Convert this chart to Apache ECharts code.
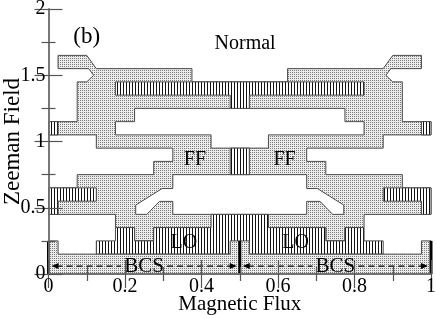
<!DOCTYPE html>
<html><head><meta charset="utf-8">
<script src="https://cdn.jsdelivr.net/npm/echarts@6/dist/echarts.min.js"></script>
<style>html,body{margin:0;padding:0;background:#fff}#c{width:436px;height:318px}</style>
</head><body><div id="c"></div>
<script>
// ---- Phase boundaries (flux, field). "Half" paths run over flux 0..0.5, start and end on flux = 0.5,
// and are mirrored about flux = 0.5 to close the region.
const ffEnvelopeHalf = [[0.5,1.45],[0.375,1.45],[0.375,1.55],[0.125,1.55],[0.1,1.65],[0.025,1.65],[0.025,1.55],
  [0.105,1.55],[0.118,1.5],[0.1,1.45],[0.075,1.45],[0.075,1.15],[0,1.15],[0,1.05],[0.125,1.05],[0.125,0.95],
  [0.325,0.95],[0.325,0.85],[0.275,0.85],[0.275,0.75],[0.075,0.75],[0.075,0.65],[0,0.65],[0,0.45],[0.175,0.45],
  [0.175,0.35],[0.225,0.35],[0.225,0.25],[0.275,0.25],[0.275,0.35],[0.5,0.35]];
const normalUpperHalf = [[0.5,1.25],[0.225,1.25],[0.225,1.15],[0.175,1.15],[0.175,1.05],[0.425,1.05],[0.425,0.95],[0.5,0.95]];
const normalMiddleHalf = [[0.5,0.75],[0.325,0.75],[0.325,0.645],[0.297,0.645],[0.228,0.52],[0.228,0.45],
  [0.257,0.45],[0.29,0.548],[0.325,0.548],[0.325,0.45],[0.5,0.45]];
const loTopHalf = [[0.5,1.45],[0.175,1.45],[0.175,1.35],[0.475,1.35],[0.475,1.25],[0.5,1.25]];
const loCenterHalf = [[0.5,0.95],[0.475,0.95],[0.475,0.75],[0.5,0.75]];
const loBottomHalf = [[0.5,0.45],[0.425,0.45],[0.425,0.35],[0.275,0.35],[0.275,0.25],[0.225,0.25],[0.225,0.35],
  [0.175,0.35],[0.175,0.25],[0.125,0.25],[0.125,0.15],[0.5,0.15]];
const loEdgeUpper = [[0,1.05],[0.025,1.05],[0.025,1.15],[0,1.15]];
const loEdgeMiddle = [[0,0.65],[0.125,0.65],[0.125,0.55],[0.025,0.55],[0.025,0.45],[0,0.45]];
const bcsHalf = [[0.5,0.25],[0.475,0.25],[0.475,0.15],[0.025,0.15],[0.025,0.25],[0,0.25],[0,0],[0.5,0]];
const firstOrderFlux = [0, 0.5, 1];
const firstOrderTop = 0.25;
const bcsArrowField = 0.06;
const xTicks = [0, 0.2, 0.4, 0.6, 0.8, 1];
const yTicks = [0, 0.5, 1, 1.5, 2];

// ---- build full polygons
const mirror = p => [1 - p[0], p[1]];
function closeHalf(h){ const r = h.slice().reverse().map(mirror); return h.concat(r.slice(1, -1)); }
function pair(p){ return [p, p.map(mirror)]; }

const ffPolys = [closeHalf(ffEnvelopeHalf)];
const normalPolys = [closeHalf(normalUpperHalf), closeHalf(normalMiddleHalf)];
const loPolys = [closeHalf(loTopHalf), closeHalf(loCenterHalf), closeHalf(loBottomHalf)]
  .concat(pair(loEdgeUpper), pair(loEdgeMiddle));
const bcsPolys = [closeHalf(bcsHalf)];

// ---- fill patterns
function pattern(w, h, draw){ const c = document.createElement('canvas'); c.width = w; c.height = h;
  const g = c.getContext('2d'); draw(g); return {image: c, repeat: 'repeat'}; }
const dots = pattern(2, 2, g => { g.fillStyle = '#ececec'; g.fillRect(0,0,2,2); g.fillStyle = '#7a7a7a'; g.fillRect(0,0,1,1); });
const hatch = pattern(3, 3, g => { g.fillStyle = '#fff'; g.fillRect(0,0,3,3); g.fillStyle = '#111'; g.fillRect(0,0,1,3); });

const SERIF = '"Liberation Serif", "Times New Roman", serif';
const EDGE = '#4a4a4a';

function polySeries(polys, fill, z){
  return { type: 'custom', coordinateSystem: 'cartesian2d', z: z, silent: true, clip: false,
    data: polys.map((p, i) => [p[0][0], p[0][1], i]),
    renderItem: (params, api) => ({ type: 'polygon',
      shape: { points: polys[params.dataIndex].map(pt => api.coord(pt)) },
      style: { fill: fill, stroke: EDGE, lineWidth: 1 } }) };
}

const labels = [
  {text: '(b)', x: 0.1, y: 1.79, size: 23},
  {text: 'Normal', x: 0.514, y: 1.735, size: 20},
  {text: 'FF', x: 0.383, y: 0.86, size: 20},
  {text: 'FF', x: 0.617, y: 0.86, size: 20},
  {text: 'LO', x: 0.354, y: 0.238, size: 20},
  {text: 'LO', x: 0.646, y: 0.238, size: 20}
];
const bcsLabels = [{text: 'BCS', x: 0.25, y: bcsArrowField}, {text: 'BCS', x: 0.75, y: bcsArrowField}];

const decorSeries = { type: 'custom', coordinateSystem: 'cartesian2d', z: 5, silent: true, clip: false,
  data: [[0, 0]],
  renderItem: (params, api) => {
    const ch = [];
    firstOrderFlux.forEach(f => { const a = api.coord([f, 0]), b = api.coord([f, firstOrderTop]);
      ch.push({type: 'line', shape: {x1: a[0], y1: a[1], x2: b[0], y2: b[1]}, style: {stroke: '#000', lineWidth: 3}}); });
    bcsLabels.forEach((L, k) => {
      const c = api.coord([L.x, L.y]);
      const left = api.coord([k * 0.5, L.y]), right = api.coord([k * 0.5 + 0.5, L.y]);
      const l0 = left[0] + 3, r0 = right[0] - 3, half = 23;
      const ds = {stroke: '#000', lineWidth: 1.3, lineDash: [6, 4]};
      ch.push({type: 'line', shape: {x1: l0 + 5, y1: c[1], x2: c[0] - half, y2: c[1]}, style: ds});
      ch.push({type: 'line', shape: {x1: c[0] + half, y1: c[1], x2: r0 - 5, y2: c[1]}, style: ds});
      ch.push({type: 'polygon', shape: {points: [[l0, c[1]], [l0 + 7, c[1] - 3], [l0 + 7, c[1] + 3]]}, style: {fill: '#000'}});
      ch.push({type: 'polygon', shape: {points: [[r0, c[1]], [r0 - 7, c[1] - 3], [r0 - 7, c[1] + 3]]}, style: {fill: '#000'}});
      ch.push({type: 'text', x: c[0], y: c[1], style: {text: L.text, font: '21px ' + SERIF, fill: '#000', align: 'center', verticalAlign: 'middle'}});
    });
    labels.forEach(L => { const c = api.coord([L.x, L.y]);
      ch.push({type: 'text', x: c[0], y: c[1], style: {text: L.text, font: L.size + 'px ' + SERIF, fill: '#000', align: 'center', verticalAlign: 'middle'}}); });
    return {type: 'group', children: ch};
  } };

const axisLine = {show: true, lineStyle: {color: '#6f6f6f', width: 1.5}};
const tick = {show: true, inside: true, length: 14, lineStyle: {color: '#555', width: 1.2}};
const minor = {show: true, splitNumber: 2, length: 7, lineStyle: {color: '#555', width: 1.2}};
function xAx(pos, show){ return {type: 'value', min: 0, max: 1, interval: 0.2, position: pos, z: 10,
  axisLine: axisLine, axisTick: tick, minorTick: minor, splitLine: {show: false},
  axisLabel: {show: show, fontFamily: SERIF, fontSize: 20, color: '#000', margin: 3,
    formatter: v => xTicks.includes(+v.toFixed(2)) ? String(+v.toFixed(2)) : ''},
  name: show ? 'Magnetic Flux' : '', nameLocation: 'middle', nameGap: 20, nameMoveOverlap: false,
  nameTextStyle: {fontFamily: SERIF, fontSize: 21, color: '#000'}}; }
function yAx(pos, show){ return {type: 'value', min: 0, max: 2, interval: 0.5, position: pos, z: 10,
  axisLine: axisLine, axisTick: tick, minorTick: minor, splitLine: {show: false},
  axisLabel: {show: show, fontFamily: SERIF, fontSize: 20, color: '#000', margin: 3,
    formatter: v => yTicks.includes(+v.toFixed(2)) ? String(+v.toFixed(2)) : ''},
  name: show ? 'Zeeman Field' : '', nameLocation: 'middle', nameGap: 24, nameMoveOverlap: false,
  nameTextStyle: {fontFamily: SERIF, fontSize: 23, color: '#000'}}; }

const chart = echarts.init(document.getElementById('c'), null, {renderer: 'canvas'});
chart.setOption({
  animation: false,
  grid: {left: 48.5, right: 5, top: 9, bottom: 44, containLabel: false, outerBoundsMode: 'none'},
  xAxis: [xAx('bottom', true), xAx('top', false)],
  yAxis: [yAx('left', true), yAx('right', false)],
  series: [polySeries(ffPolys, dots, 1), polySeries(normalPolys, '#fff', 2), polySeries(loPolys, hatch, 3),
    polySeries(bcsPolys, dots, 4), decorSeries]
});
</script></body></html>
